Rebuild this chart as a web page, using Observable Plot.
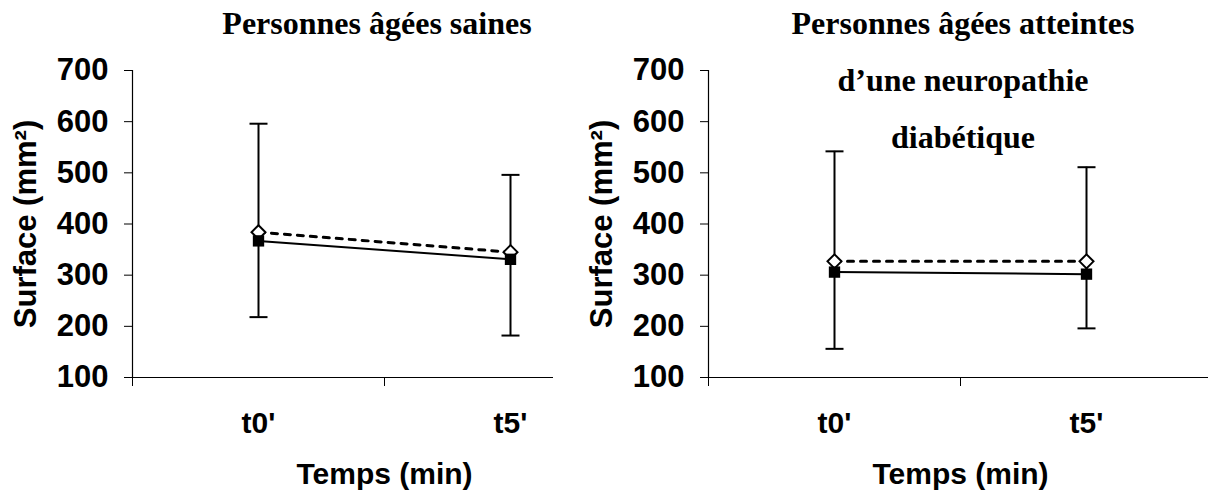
<!DOCTYPE html>
<html><head><meta charset="utf-8">
<script src="https://cdn.jsdelivr.net/npm/d3@7"></script>
<script src="https://cdn.jsdelivr.net/npm/@observablehq/plot@0.6"></script>
<style>
body{margin:0;background:#fff;width:1208px;height:491px;overflow:hidden;position:relative;}
.panel{position:absolute;top:0;height:491px;overflow:hidden;}
.panel svg{max-width:none !important;width:636px !important;height:491px !important;}
.title{position:absolute;top:-5px;font-family:"Liberation Serif","Times New Roman",serif;font-weight:bold;font-size:32px;line-height:57px;text-align:center;white-space:nowrap;transform:translateX(-50%);color:#000;}
</style></head><body>
<div id="p1" class="panel" style="left:0;width:553px"></div>
<div id="p2" class="panel" style="left:576px;width:632px"></div>
<div id="t1" class="title" style="left:377px"></div>
<div id="t2" class="title" style="left:963px"></div>
<script>
const categories = ["t0'", "t5'"];
const yTicks = [100, 200, 300, 400, 500, 600, 700];
const yLabel = "Surface (mm²)";
const xLabel = "Temps (min)";
const title1 = ["Personnes âgées saines"];
const title2 = ["Personnes âgées atteintes", "d’une neuropathie", "diabétique"];

// Personnes âgées saines
const sainesSquare = [367, 331];
const sainesDiamond = [384, 345];
const sainesErrHigh = [596, 496];
const sainesErrLow = [218, 182];

// Personnes âgées atteintes d'une neuropathie diabétique
const neuroSquare = [306, 302];
const neuroDiamond = [327, 327];
const neuroErrHigh = [542, 511];
const neuroErrLow = [156, 196];

const capSymbol = {
  draw(context, size) {
    const r = Math.sqrt(size / Math.PI);
    context.moveTo(-r, 0);
    context.lineTo(r, 0);
  }
};

function chart(sq, di, hi, lo) {
  const rows = categories.map((c, i) => ({cat: c, pos: i + 0.5, sq: sq[i], di: di[i], hi: hi[i], lo: lo[i]}));
  return Plot.plot({
    width: 636, height: 491,
    marginLeft: 132, marginRight: 0, marginTop: 70, marginBottom: 114,
    x: {type: "linear", domain: [0, categories.length]},
    y: {domain: [100, 700]},
    style: {fontFamily: "'Liberation Sans', Arial, sans-serif", fontWeight: "bold", fontSize: "30px", color: "#000", background: "transparent", overflow: "visible", maxWidth: "none"},
    marks: [
      Plot.axisY({ticks: yTicks, tickSize: 8, tickPadding: 16, label: yLabel, labelAnchor: "center", labelOffset: 119, labelArrow: "none", fontSize: 31}),
      Plot.axisX({ticks: d3.range(categories.length + 1), tickSize: 9, tickFormat: () => "", label: null}),
      Plot.axisX({ticks: rows.map(d => d.pos), tickSize: 0, tickPadding: 34, tickFormat: v => categories[Math.floor(v)], label: xLabel, labelAnchor: "center", labelOffset: 106, labelArrow: "none", fontSize: 30}),
      Plot.ruleY([100], {stroke: "#000", strokeWidth: 1.2}),
      Plot.ruleX([0], {y1: 100, y2: 700, stroke: "#000", strokeWidth: 1.2}),
      Plot.ruleX(rows, {x: "pos", y1: "lo", y2: "hi", stroke: "#000", strokeWidth: 2}),
      Plot.dot(rows, {x: "pos", y: "hi", symbol: capSymbol, r: 9, fill: "none", stroke: "#000", strokeWidth: 2}),
      Plot.dot(rows, {x: "pos", y: "lo", symbol: capSymbol, r: 9, fill: "none", stroke: "#000", strokeWidth: 2}),
      Plot.line(rows, {x: "pos", y: "di", stroke: "#000", strokeWidth: 3, strokeDasharray: "6,7"}),
      Plot.line(rows, {x: "pos", y: "sq", stroke: "#000", strokeWidth: 2}),
      Plot.dot(rows, {x: "pos", y: "di", symbol: "diamond2", r: 6.3, fill: "#fff", stroke: "#000", strokeWidth: 2}),
      Plot.dot(rows, {x: "pos", y: "sq", symbol: "square", r: 6.4, fill: "#000", stroke: "none"})
    ]
  });
}

document.getElementById("p1").append(chart(sainesSquare, sainesDiamond, sainesErrHigh, sainesErrLow));
document.getElementById("p2").append(chart(neuroSquare, neuroDiamond, neuroErrHigh, neuroErrLow));
document.getElementById("t1").innerHTML = title1.join("<br>");
document.getElementById("t2").innerHTML = title2.join("<br>");
</script>
</body></html>
